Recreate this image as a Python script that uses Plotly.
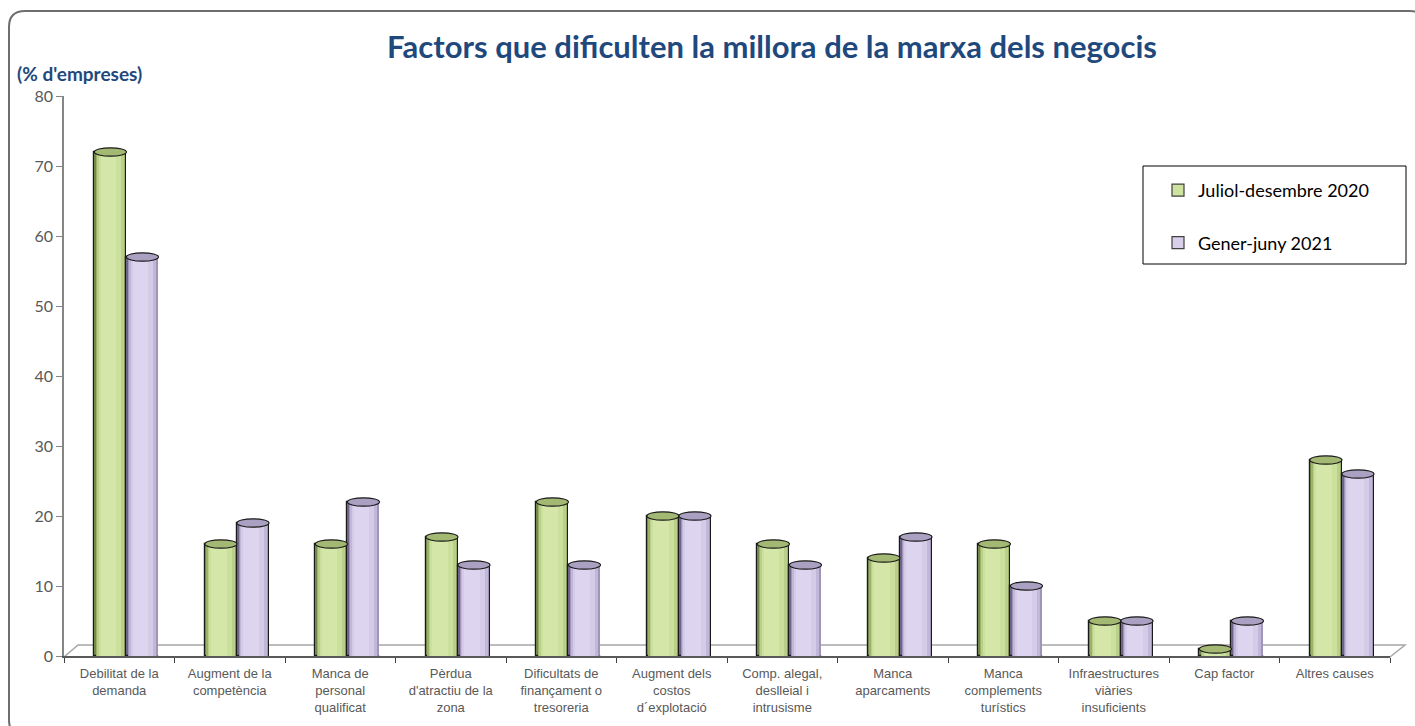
import plotly.graph_objects as go

categories = [
    "Debilitat de la<br>demanda",
    "Augment de la<br>competència",
    "Manca de<br>personal<br>qualificat",
    "Pèrdua<br>d'atractiu de la<br>zona",
    "Dificultats de<br>finançament o<br>tresoreria",
    "Augment dels<br>costos<br>d´explotació",
    "Comp. alegal,<br>deslleial i<br>intrusisme",
    "Manca<br>aparcaments",
    "Manca<br>complements<br>turístics",
    "Infraestructures<br>viàries<br>insuficients",
    "Cap factor",
    "Altres causes",
]
series_names = ["Juliol-desembre 2020", "Gener-juny 2021"]
values_2020 = [72, 16, 16, 17, 22, 20, 16, 14, 16, 5, 1, 28]
values_2021 = [57, 19, 22, 13, 13, 20, 13, 17, 10, 5, 5, 26]
y_ticks = [0, 10, 20, 30, 40, 50, 60, 70, 80]

# layout geometry (pixels)
W, H = 1415, 726
L, R, T, B = 64, 25, 96, 70
PW, PH = W - L - R, H - T - B


def px(p):
    return (p - L) / PW


def py(p):
    return (H - B - p) / PH


BAR_W = 0.29
SHIFT = 0.065
offsets = [-BAR_W + SHIFT, SHIFT]

layers = {
    0: ["#72874a", "#9cb26b", "#bad08a", "#cce09e", "#d4e7a8"],
    1: ["#6f6488", "#a094b9", "#c1b7d8", "#d4cbe8", "#ddd5ef"],
}
layer_span = [(0.0, 1.0), (0.05, 0.97), (0.09, 0.93), (0.14, 0.84), (0.2, 0.68)]
legend_colors = ["#cfe3a0", "#d8cfea"]
cap_colors = ["#a3b872", "#aaa0c2"]

fig = go.Figure()

for s, vals in enumerate([values_2020, values_2021]):
    for k, (a, b) in enumerate(layer_span):
        fig.add_trace(go.Bar(
            x=categories, y=vals,
            width=BAR_W * (b - a),
            offset=offsets[s] + BAR_W * a,
            marker=dict(color=layers[s][k],
                        line=dict(color="#1a1a1a", width=1.2 if k == 0 else 0)),
            showlegend=False, hoverinfo="skip" if k else None,
            name=series_names[s],
        ))
    # legend entry
    fig.add_trace(go.Bar(
        x=[categories[0]], y=[None], name=series_names[s],
        marker=dict(color=legend_colors[s], line=dict(color="#404040", width=1.2)),
        legendgroup=f"g{s}", showlegend=True,
    ))

shapes = []
CAP_H = 0.6
for s, vals in enumerate([values_2020, values_2021]):
    for i, v in enumerate(vals):
        x0 = i + offsets[s]
        shapes.append(dict(
            type="circle", xref="x", yref="y",
            x0=x0, x1=x0 + BAR_W, y0=v - CAP_H, y1=v + CAP_H,
            fillcolor=cap_colors[s], line=dict(color="#1a1a1a", width=1.2),
            layer="above",
        ))
        # rounded bottom
        shapes.append(dict(
            type="path", xref="x", yref="y",
            path=f"M {x0} 0 Q {x0 + BAR_W/2} {-1.0} {x0 + BAR_W} 0",
            line=dict(color="#1a1a1a", width=1.2), layer="above",
        ))

# floor of the 3D chart
floor = (f"M {px(64)} {py(657)} L {px(78)} {py(645)} L {px(1405)} {py(645)} "
         f"L {px(1390)} {py(657)}")
shapes.append(dict(type="path", xref="paper", yref="paper", path=floor,
                   line=dict(color="#a6a6a6", width=1.5), layer="below"))

# outer rounded frame
x0, y0, x1, y1 = px(9), py(11), px(1426), py(736)
rx, ry = 16 / PW, 16 / PH
frame = (f"M {x0 + rx} {y0} L {x1 - rx} {y0} Q {x1} {y0} {x1} {y0 - ry} "
         f"L {x1} {y1 + ry} Q {x1} {y1} {x1 - rx} {y1} L {x0 + rx} {y1} "
         f"Q {x0} {y1} {x0} {y1 + ry} L {x0} {y0 - ry} Q {x0} {y0} {x0 + rx} {y0} Z")
shapes.append(dict(type="path", xref="paper", yref="paper", path=frame,
                   line=dict(color="#6e6e6e", width=2), layer="below"))

# legend box
shapes.append(dict(type="rect", xref="paper", yref="paper",
                   x0=px(1143), x1=px(1406), y0=py(264), y1=py(166),
                   line=dict(color="#000000", width=1), fillcolor="white", layer="below"))

fig.update_layout(
    width=W, height=H,
    margin=dict(l=L, r=R, t=T, b=B),
    paper_bgcolor="white", plot_bgcolor="white",
    barmode="overlay",
    shapes=shapes,
    title=dict(text="<b>Factors que dificulten la millora de la marxa dels negocis</b>",
               font=dict(family="Lato", size=31, color="#1F497D"),
               x=772 / W, xanchor="center", y=1 - 47 / H, yanchor="middle"),
    annotations=[dict(text="<b>(% d'empreses)</b>", xref="paper", yref="paper",
                      x=px(15), y=py(74), xanchor="left", yanchor="middle",
                      showarrow=False,
                      font=dict(family="Lato", size=19, color="#1F497D"))],
    legend=dict(x=px(1158), y=py(172), xanchor="left", yanchor="top",
                bgcolor="rgba(0,0,0,0)", borderwidth=0,
                font=dict(family="Lato", size=18, color="#000000"),
                tracegroupgap=26),
    xaxis=dict(type="category", range=[-0.5, len(categories) - 0.5],
               showline=True, linecolor="#595959", linewidth=1.5,
               ticks="outside", tickson="boundaries", ticklen=5, tickcolor="#404040",
               ticklabelstandoff=5,
               tickfont=dict(family="Liberation Sans", size=13, color="#595959"),
               showgrid=False, fixedrange=True),
    yaxis=dict(range=[0, 80], tickvals=y_ticks,
               showline=True, linecolor="#868686", linewidth=1.5,
               ticks="outside", ticklen=6, tickcolor="#868686",
               tickfont=dict(family="Lato", size=16, color="#595959"),
               showgrid=False, zeroline=False, fixedrange=True),
    bargap=0,
)

fig.write_html("out.html", config={"displayModeBar": False},
               post_script="document.body.style.margin='0';")
